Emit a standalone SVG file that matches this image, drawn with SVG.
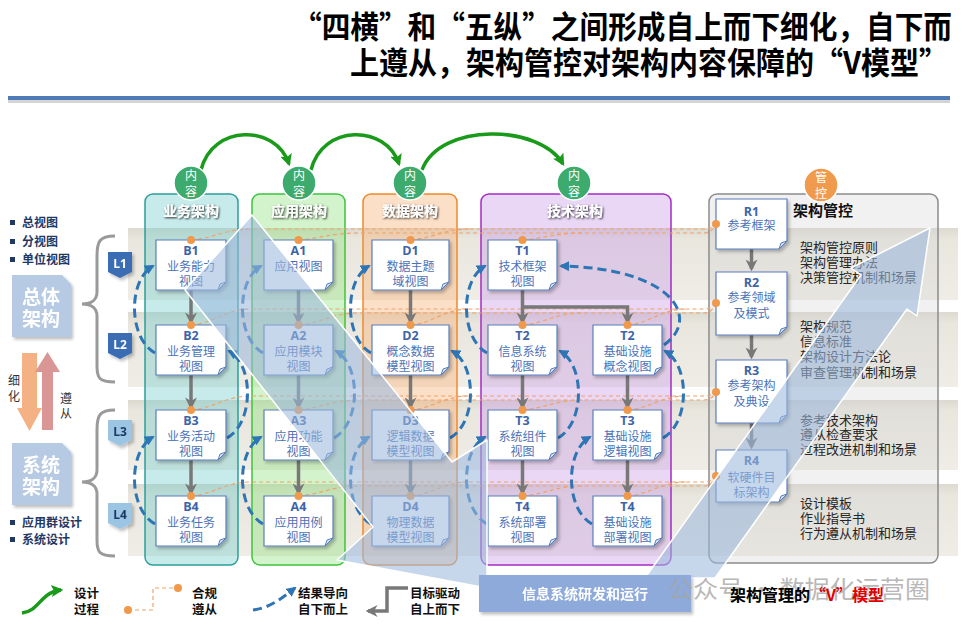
<svg xmlns="http://www.w3.org/2000/svg" width="964" height="627" viewBox="0 0 964 627">
<defs>
<style>
.title{font-family:"Noto Sans CJK SC","Noto Sans",sans-serif;font-weight:bold;font-size:31px;fill:#000}
.band{fill:url(#gband)}
.card{fill:#fff;stroke:#5b7fbd;stroke-width:1.2;filter:url(#sh)}
.fold{fill:#d6e2f3;stroke:#5b7fbd;stroke-width:1}
.cid{font-family:"Open Sans","Noto Sans CJK SC",sans-serif;font-weight:bold;font-size:12.5px;fill:#3d64a8;text-anchor:middle}
.cn{font-family:"Noto Sans CJK SC",sans-serif;font-size:12px;fill:#4a73b9;text-anchor:middle}
.dot{fill:#f0994a}
.odash{fill:none;stroke:#f0a36a;stroke-width:1.2;stroke-dasharray:4 3}
.gray{fill:none;stroke:#787878;stroke-width:3.5;marker-end:url(#mg)}
.bdash{fill:none;stroke:#2e75b6;stroke-width:3;stroke-dasharray:9 5;marker-end:url(#mb)}
.green{fill:none;stroke:#1a9a1a;stroke-width:3.5;marker-end:url(#mgr)}
.hdr{font-family:"Noto Sans CJK SC",sans-serif;font-weight:bold;font-size:14px;fill:#fff;text-anchor:middle;filter:url(#ts)}
.ct{font-family:"Noto Sans CJK SC",sans-serif;font-size:12px;fill:#fff;text-anchor:middle}
.rtxt{font-family:"Noto Sans CJK SC",sans-serif;font-size:13px;fill:#262626}
.bul{font-family:"Noto Sans CJK SC",sans-serif;font-weight:bold;font-size:12px;fill:#1f3864}
.leg{font-family:"Noto Sans CJK SC",sans-serif;font-weight:bold;font-size:12.5px;fill:#111}
.big{font-family:"Noto Sans CJK SC",sans-serif;font-weight:bold;font-size:19px;fill:#fff;text-anchor:middle}
.ltag{font-family:"Open Sans",sans-serif;font-weight:bold;font-size:12px;text-anchor:middle}
.small{font-family:"Noto Sans CJK SC",sans-serif;font-size:12px;fill:#333;text-anchor:middle}
</style>
<linearGradient id="gband" x1="0" y1="0" x2="0" y2="1">
<stop offset="0" stop-color="#dcd9cf"/><stop offset="0.15" stop-color="#e9e6de"/><stop offset="1" stop-color="#efede6"/>
</linearGradient>
<filter id="sh" x="-20%" y="-20%" width="150%" height="150%"><feDropShadow dx="2" dy="2.5" stdDeviation="1.8" flood-color="#000" flood-opacity="0.25"/></filter>
<filter id="ts" x="-20%" y="-30%" width="140%" height="170%"><feDropShadow dx="1" dy="1" stdDeviation="0.8" flood-color="#000" flood-opacity="0.85"/></filter>
<marker id="mg" viewBox="0 0 10 10" refX="8" refY="5" markerWidth="12" markerHeight="12" markerUnits="userSpaceOnUse" orient="auto"><path d="M0,0L10,5L0,10L3,5Z" fill="#787878"/></marker>
<marker id="mb" viewBox="0 0 10 10" refX="8" refY="5" markerWidth="10" markerHeight="10" markerUnits="userSpaceOnUse" orient="auto"><path d="M0,0L10,5L0,10Z" fill="#2e75b6"/></marker>
<marker id="mgr" viewBox="0 0 10 10" refX="8" refY="5" markerWidth="12" markerHeight="12" markerUnits="userSpaceOnUse" orient="auto"><path d="M0,0L10,5L0,10L2,5Z" fill="#1a9a1a"/></marker>
</defs>

<rect width="964" height="627" fill="#fff"/>

<!-- Title -->
<g id="title">
<text class="title" x="293" y="38" textLength="659" lengthAdjust="spacingAndGlyphs">“四横”和“五纵”之间形成自上而下细化，自下而</text>
<text class="title" x="350" y="74" textLength="598" lengthAdjust="spacingAndGlyphs">上遵从，架构管控对架构内容保障的“V模型”</text>
<rect x="8" y="100" width="942" height="3" fill="#d5d5d5"/>
<rect x="8" y="96" width="942" height="4" fill="#4e7ab5"/>
</g>

<!-- Bands -->
<g id="bands">
<rect class="band" x="128" y="228" width="830" height="72"/>
<rect class="band" x="128" y="312" width="830" height="75"/>
<rect class="band" x="128" y="400" width="830" height="70"/>
<rect class="band" x="128" y="484" width="830" height="72"/>
</g>

<!-- Columns -->
<g id="columns">
<rect x="145" y="194" width="93" height="371" rx="8" fill="#6ccaca" fill-opacity="0.38" stroke="#2b9f9b" stroke-width="1.5"/>
<rect x="252" y="194" width="93" height="371" rx="8" fill="#8ee07e" fill-opacity="0.4" stroke="#3ec43e" stroke-width="1.5"/>
<rect x="363" y="194" width="94" height="371" rx="8" fill="#f7b27a" fill-opacity="0.42" stroke="#ee8a2c" stroke-width="1.5"/>
<rect x="481" y="194" width="190" height="371" rx="8" fill="#c79ae6" fill-opacity="0.4" stroke="#a32cc4" stroke-width="1.5"/>
<rect x="709" y="194" width="229" height="369" rx="8" fill="#d0d0d0" fill-opacity="0.3" stroke="#8c8c8c" stroke-width="1.5"/>
</g>

<!-- Left side -->
<g id="left-top">
<rect x="10" y="220" width="5" height="5" fill="#1f3864"/><text class="bul" x="22" y="227">总视图</text>
<rect x="10" y="239" width="5" height="5" fill="#1f3864"/><text class="bul" x="22" y="246">分视图</text>
<rect x="10" y="257" width="5" height="5" fill="#1f3864"/><text class="bul" x="22" y="264">单位视图</text>
</g>
<g id="zongti" filter="url(#sh)">
<path d="M12,275H62L71,284V337H12Z" fill="#b7cae3"/>
<text class="big" x="41" y="304">总体</text>
<text class="big" x="41" y="326">架构</text>
</g>
<g id="xitong" filter="url(#sh)">
<path d="M12,443H62L71,452V505H12Z" fill="#b7cae3"/>
<text class="big" x="41" y="472">系统</text>
<text class="big" x="41" y="494">架构</text>
</g>
<g id="left-bottom">
<rect x="10" y="520" width="5" height="5" fill="#1f3864"/><text class="bul" x="22" y="527">应用群设计</text>
<rect x="10" y="537" width="5" height="5" fill="#1f3864"/><text class="bul" x="22" y="544">系统设计</text>
</g>
<g id="braces" fill="none" stroke="#9a9a9a" stroke-width="3">
<path d="M115,236C99,236 97,242 97,256L97,292C97,300 91,304 82,304C91,304 97,308 97,316L97,366C97,378 99,382 115,382"/>
<path d="M115,410C99,410 97,416 97,430L97,470C97,478 91,482 82,482C91,482 97,486 97,494L97,540C97,552 99,556 115,556"/>
</g>
<g id="refine-arrows">
<path d="M22,353H37V408H42L29.5,431L17,408H22Z" fill="#f4b183"/>
<path d="M42,430H53V372H60L47.5,352L35,372H42Z" fill="#d99694"/>
<text class="small" x="14" y="385">细</text>
<text class="small" x="14" y="401">化</text>
<text class="small" x="66" y="403">遵</text>
<text class="small" x="66" y="418">从</text>
</g>
<g id="L1" filter="url(#sh)"><path d="M108,252H132V272L120,278L108,272Z" fill="#3a6db5"/><text class="ltag" x="120" y="268" fill="#fff">L1</text></g>
<g id="L2" filter="url(#sh)"><path d="M108,333H132V353L120,359L108,353Z" fill="#3a6db5"/><text class="ltag" x="120" y="349" fill="#fff">L2</text></g>
<g id="L3" filter="url(#sh)"><path d="M108,420H132V440L120,446L108,440Z" fill="#9cc5e4"/><text class="ltag" x="120" y="436" fill="#1f3864">L3</text></g>
<g id="L4" filter="url(#sh)"><path d="M108,503H132V523L120,529L108,523Z" fill="#9cc5e4"/><text class="ltag" x="120" y="519" fill="#1f3864">L4</text></g>

<!-- Connectors -->
<g id="connectors">
<!-- compliance (orange dashed) -->
<g id="compliance">
<path class="odash" d="M191,240C215,238 225,229 251,229H704Q712,229 716,224"/>
<path class="odash" d="M298.5,240C322,238 332,233 358,233H704Q712,233 716,224"/>
<path class="odash" d="M410.5,240C434,238 444,229 470,229"/>
<path class="odash" d="M522.5,240C546,238 556,233 582,233"/>
<path class="odash" d="M191,325C215,323 225,309 251,309H704Q712,309 716,303"/>
<path class="odash" d="M298.5,325C322,323 332,313 358,313H704Q712,313 716,303"/>
<path class="odash" d="M410.5,325C434,323 444,309 470,309"/>
<path class="odash" d="M522.5,325C546,323 556,313 582,313"/>
<path class="odash" d="M627.5,325C651,323 661,309 687,309"/>
<path class="odash" d="M191,410C215,408 225,396 251,396H704Q712,396 716,392"/>
<path class="odash" d="M298.5,410C322,408 332,400 358,400H704Q712,400 716,392"/>
<path class="odash" d="M410.5,410C434,408 444,396 470,396"/>
<path class="odash" d="M522.5,410C546,408 556,400 582,400"/>
<path class="odash" d="M627.5,410C651,408 661,396 687,396"/>
<path class="odash" d="M191,496C215,494 225,482 251,482H704Q712,482 716,476"/>
<path class="odash" d="M298.5,496C322,494 332,486 358,486H704Q712,486 716,476"/>
<path class="odash" d="M410.5,496C434,494 444,482 470,482"/>
<path class="odash" d="M522.5,496C546,494 556,486 582,486"/>
<path class="odash" d="M627.5,496C651,494 661,482 687,482"/>
</g>
<!-- top-down gray arrows -->
<g id="topdown">
<path class="gray" d="M191,290V322"/><path class="gray" d="M191,375V407"/><path class="gray" d="M191,460V493"/>
<path class="gray" d="M298.5,290V322"/><path class="gray" d="M298.5,375V407"/><path class="gray" d="M298.5,460V493"/>
<path class="gray" d="M410.5,290V322"/><path class="gray" d="M410.5,375V407"/><path class="gray" d="M410.5,460V493"/>
<path class="gray" d="M522.5,290V322"/><path class="gray" d="M522.5,307H627.5V322"/>
<path class="gray" d="M522.5,375V407"/><path class="gray" d="M522.5,460V493"/>
<path class="gray" d="M627.5,375V407"/><path class="gray" d="M627.5,460V493"/>
<path class="gray" d="M751.5,249V269"/><path class="gray" d="M751.5,335V357"/><path class="gray" d="M751.5,423V447"/>
</g>
<!-- bottom-up blue dashed -->
<g id="bottomup">
<path class="bdash" d="M155,353C128,338 128,280 153,266"/>
<path class="bdash" d="M155,524C128,509 128,451 153,437"/>
<path class="bdash" d="M227,438C254,423 254,365 229,351"/>
<path class="bdash" d="M263,353C236,338 236,280 261,266"/>
<path class="bdash" d="M263,524C236,509 236,451 261,437"/>
<path class="bdash" d="M334,438C361,423 361,365 336,351"/>
<path class="bdash" d="M371,353C344,338 344,280 369,266"/>
<path class="bdash" d="M371,524C344,509 344,451 369,437"/>
<path class="bdash" d="M450,438C477,423 477,365 452,351"/>
<path class="bdash" d="M487,353C460,338 460,280 485,266"/>
<path class="bdash" d="M487,524C460,509 460,451 485,437"/>
<path class="bdash" d="M558,438C585,423 585,365 560,351"/>
<path class="bdash" d="M592,524C565,509 565,451 590,437"/>
<path class="bdash" d="M663,438C690,423 690,365 665,351"/>
<path class="bdash" d="M664,345C702,318 672,268 561,266"/>
</g>
<!-- design process green arcs -->
<g id="design">
<path class="green" d="M201,170C212,124 276,124 289,164"/>
<path class="green" d="M311,170C322,124 386,124 399,164"/>
<path class="green" d="M422,170C440,122 540,124 563,164"/>
</g>
</g>

<!-- Cards -->
<g id="B1" transform="translate(156,240)"><path class="card" d="M0,0H70V42L62,50H0Z"/><path class="fold" d="M62,50L64,44L70,42Z"/><circle class="dot" cx="35" cy="0" r="4"/><text class="cid" x="35" y="14.5">B1</text><text class="cn" x="35" y="31">业务能力</text><text class="cn" x="35" y="45.5">视图</text></g>
<g id="B2" transform="translate(156,325)"><path class="card" d="M0,0H70V42L62,50H0Z"/><path class="fold" d="M62,50L64,44L70,42Z"/><circle class="dot" cx="35" cy="0" r="4"/><text class="cid" x="35" y="14.5">B2</text><text class="cn" x="35" y="31">业务管理</text><text class="cn" x="35" y="45.5">视图</text></g>
<g id="B3" transform="translate(156,410)"><path class="card" d="M0,0H70V42L62,50H0Z"/><path class="fold" d="M62,50L64,44L70,42Z"/><circle class="dot" cx="35" cy="0" r="4"/><text class="cid" x="35" y="14.5">B3</text><text class="cn" x="35" y="31">业务活动</text><text class="cn" x="35" y="45.5">视图</text></g>
<g id="B4" transform="translate(156,496)"><path class="card" d="M0,0H70V42L62,50H0Z"/><path class="fold" d="M62,50L64,44L70,42Z"/><circle class="dot" cx="35" cy="0" r="4"/><text class="cid" x="35" y="14.5">B4</text><text class="cn" x="35" y="31">业务任务</text><text class="cn" x="35" y="45.5">视图</text></g>

<g id="A1" transform="translate(264,240)"><path class="card" d="M0,0H69V42L61,50H0Z"/><path class="fold" d="M61,50L63,44L69,42Z"/><circle class="dot" cx="34.5" cy="0" r="4"/><text class="cid" x="34.5" y="14.5">A1</text><text class="cn" x="34.5" y="31">应用视图</text></g>
<g id="A2" transform="translate(264,325)"><path class="card" d="M0,0H69V42L61,50H0Z"/><path class="fold" d="M61,50L63,44L69,42Z"/><circle class="dot" cx="34.5" cy="0" r="4"/><text class="cid" x="34.5" y="14.5">A2</text><text class="cn" x="34.5" y="31">应用模块</text><text class="cn" x="34.5" y="45.5">视图</text></g>
<g id="A3" transform="translate(264,410)"><path class="card" d="M0,0H69V42L61,50H0Z"/><path class="fold" d="M61,50L63,44L69,42Z"/><circle class="dot" cx="34.5" cy="0" r="4"/><text class="cid" x="34.5" y="14.5">A3</text><text class="cn" x="34.5" y="31">应用功能</text><text class="cn" x="34.5" y="45.5">视图</text></g>
<g id="A4" transform="translate(264,496)"><path class="card" d="M0,0H69V42L61,50H0Z"/><path class="fold" d="M61,50L63,44L69,42Z"/><circle class="dot" cx="34.5" cy="0" r="4"/><text class="cid" x="34.5" y="14.5">A4</text><text class="cn" x="34.5" y="31">应用用例</text><text class="cn" x="34.5" y="45.5">视图</text></g>

<g id="D1" transform="translate(372,240)"><path class="card" d="M0,0H77V42L69,50H0Z"/><path class="fold" d="M69,50L71,44L77,42Z"/><circle class="dot" cx="38.5" cy="0" r="4"/><text class="cid" x="38.5" y="14.5">D1</text><text class="cn" x="38.5" y="31">数据主题</text><text class="cn" x="38.5" y="45.5">域视图</text></g>
<g id="D2" transform="translate(372,325)"><path class="card" d="M0,0H77V42L69,50H0Z"/><path class="fold" d="M69,50L71,44L77,42Z"/><circle class="dot" cx="38.5" cy="0" r="4"/><text class="cid" x="38.5" y="14.5">D2</text><text class="cn" x="38.5" y="31">概念数据</text><text class="cn" x="38.5" y="45.5">模型视图</text></g>
<g id="D3" transform="translate(372,410)"><path class="card" d="M0,0H77V42L69,50H0Z"/><path class="fold" d="M69,50L71,44L77,42Z"/><circle class="dot" cx="38.5" cy="0" r="4"/><text class="cid" x="38.5" y="14.5">D3</text><text class="cn" x="38.5" y="31">逻辑数据</text><text class="cn" x="38.5" y="45.5">模型视图</text></g>
<g id="D4" transform="translate(372,496)"><path class="card" d="M0,0H77V42L69,50H0Z"/><path class="fold" d="M69,50L71,44L77,42Z"/><circle class="dot" cx="38.5" cy="0" r="4"/><text class="cid" x="38.5" y="14.5">D4</text><text class="cn" x="38.5" y="31">物理数据</text><text class="cn" x="38.5" y="45.5">模型视图</text></g>

<g id="T1" transform="translate(488,240)"><path class="card" d="M0,0H69V42L61,50H0Z"/><path class="fold" d="M61,50L63,44L69,42Z"/><circle class="dot" cx="34.5" cy="0" r="4"/><text class="cid" x="34.5" y="14.5">T1</text><text class="cn" x="34.5" y="31">技术框架</text><text class="cn" x="34.5" y="45.5">视图</text></g>
<g id="T2a" transform="translate(488,325)"><path class="card" d="M0,0H69V42L61,50H0Z"/><path class="fold" d="M61,50L63,44L69,42Z"/><circle class="dot" cx="34.5" cy="0" r="4"/><text class="cid" x="34.5" y="14.5">T2</text><text class="cn" x="34.5" y="31">信息系统</text><text class="cn" x="34.5" y="45.5">视图</text></g>
<g id="T3a" transform="translate(488,410)"><path class="card" d="M0,0H69V42L61,50H0Z"/><path class="fold" d="M61,50L63,44L69,42Z"/><circle class="dot" cx="34.5" cy="0" r="4"/><text class="cid" x="34.5" y="14.5">T3</text><text class="cn" x="34.5" y="31">系统组件</text><text class="cn" x="34.5" y="45.5">视图</text></g>
<g id="T4a" transform="translate(488,496)"><path class="card" d="M0,0H69V42L61,50H0Z"/><path class="fold" d="M61,50L63,44L69,42Z"/><circle class="dot" cx="34.5" cy="0" r="4"/><text class="cid" x="34.5" y="14.5">T4</text><text class="cn" x="34.5" y="31">系统部署</text><text class="cn" x="34.5" y="45.5">视图</text></g>
<g id="T2b" transform="translate(593,325)"><path class="card" d="M0,0H69V42L61,50H0Z"/><path class="fold" d="M61,50L63,44L69,42Z"/><circle class="dot" cx="34.5" cy="0" r="4"/><text class="cid" x="34.5" y="14.5">T2</text><text class="cn" x="34.5" y="31">基础设施</text><text class="cn" x="34.5" y="45.5">概念视图</text></g>
<g id="T3b" transform="translate(593,410)"><path class="card" d="M0,0H69V42L61,50H0Z"/><path class="fold" d="M61,50L63,44L69,42Z"/><circle class="dot" cx="34.5" cy="0" r="4"/><text class="cid" x="34.5" y="14.5">T3</text><text class="cn" x="34.5" y="31">基础设施</text><text class="cn" x="34.5" y="45.5">逻辑视图</text></g>
<g id="T4b" transform="translate(593,496)"><path class="card" d="M0,0H69V42L61,50H0Z"/><path class="fold" d="M61,50L63,44L69,42Z"/><circle class="dot" cx="34.5" cy="0" r="4"/><text class="cid" x="34.5" y="14.5">T4</text><text class="cn" x="34.5" y="31">基础设施</text><text class="cn" x="34.5" y="45.5">部署视图</text></g>

<g id="R1" transform="translate(716,199)"><path class="card" d="M0,0H71V42L63,50H0Z"/><path class="fold" d="M63,50L65,44L71,42Z"/><circle class="dot" cx="0" cy="25" r="4"/><text class="cid" x="35.5" y="16.5">R1</text><text class="cn" x="35.5" y="31">参考框架</text></g>
<g id="R2" transform="translate(716,272)"><path class="card" d="M0,0H71V55L63,63H0Z"/><path class="fold" d="M63,63L65,57L71,55Z"/><circle class="dot" cx="0" cy="31" r="4"/><text class="cid" x="35.5" y="15">R2</text><text class="cn" x="35.5" y="30">参考领域</text><text class="cn" x="35.5" y="46">及模式</text></g>
<g id="R3" transform="translate(716,360)"><path class="card" d="M0,0H71V55L63,63H0Z"/><path class="fold" d="M63,63L65,57L71,55Z"/><circle class="dot" cx="0" cy="32" r="4"/><text class="cid" x="35.5" y="15">R3</text><text class="cn" x="35.5" y="30">参考架构</text><text class="cn" x="35.5" y="46">及典设</text></g>
<g id="R4" transform="translate(716,450)"><path class="card" d="M0,0H71V44L63,52H0Z"/><path class="fold" d="M63,52L65,46L71,44Z"/><circle class="dot" cx="0" cy="26" r="4"/><text class="cid" x="35.5" y="15">R4</text><text class="cn" x="35.5" y="31.5">软硬件目</text><text class="cn" x="35.5" y="46.5">标架构</text></g>

<!-- Governance texts -->
<g id="gov-text">
<text class="rtxt" x="800" y="252">架构管控原则</text>
<text class="rtxt" x="800" y="267">架构管理办法</text>
<text class="rtxt" x="800" y="282">决策管控机制和场景</text>
<text class="rtxt" x="800" y="331">架构规范</text>
<text class="rtxt" x="800" y="346">信息标准</text>
<text class="rtxt" x="800" y="361">架构设计方法论</text>
<text class="rtxt" x="800" y="377">审查管理机制和场景</text>
<text class="rtxt" x="800" y="425">参考技术架构</text>
<text class="rtxt" x="800" y="439">遵从检查要求</text>
<text class="rtxt" x="800" y="454">过程改进机制和场景</text>
<text class="rtxt" x="800" y="508">设计模板</text>
<text class="rtxt" x="800" y="523">作业指导书</text>
<text class="rtxt" x="800" y="538">行为遵从机制和场景</text>
</g>

<!-- V model band -->
<g id="vmodel" fill="#9db9dd" fill-opacity="0.58" stroke="#fff" stroke-width="1.5" stroke-linejoin="round">
<path d="M185,290L252,215L452,462L487,440L487,588L337,560L373,527Z"/>
<path d="M645,578L861,275L851,268L930,228L917,316L907,309L715,578Z"/>
</g>
<g id="rd-box" filter="url(#sh)">
<rect x="479" y="575" width="212" height="37" fill="#8eaadb"/>
<text x="585" y="599" text-anchor="middle" font-family="Noto Sans CJK SC, sans-serif" font-weight="bold" font-size="14" fill="#fff">信息系统研发和运行</text>
</g>

<!-- Column headers and circles -->
<g id="col-biz"><text class="hdr" x="191" y="216">业务架构</text><circle cx="191" cy="183" r="17" fill="#3daa6e" stroke="#fff" stroke-width="1.5"/><text class="ct" x="191" y="180">内</text><text class="ct" x="191" y="196">容</text></g>
<g id="col-app"><text class="hdr" x="299" y="216">应用架构</text><circle cx="299" cy="183" r="17" fill="#3daa6e" stroke="#fff" stroke-width="1.5"/><text class="ct" x="299" y="180">内</text><text class="ct" x="299" y="196">容</text></g>
<g id="col-data"><text class="hdr" x="410" y="216">数据架构</text><circle cx="410" cy="183" r="17" fill="#3daa6e" stroke="#fff" stroke-width="1.5"/><text class="ct" x="410" y="180">内</text><text class="ct" x="410" y="196">容</text></g>
<g id="col-tech"><text class="hdr" x="575" y="216">技术架构</text><circle cx="574" cy="183" r="17" fill="#3daa6e" stroke="#fff" stroke-width="1.5"/><text class="ct" x="574" y="180">内</text><text class="ct" x="574" y="196">容</text></g>
<g id="col-gov"><text x="793" y="216" font-family="Noto Sans CJK SC, sans-serif" font-weight="bold" font-size="15" fill="#111">架构管控</text><circle cx="821" cy="185" r="17" fill="#ef9a4c" stroke="#fff" stroke-width="1.5"/><text class="ct" x="821" y="182">管</text><text class="ct" x="821" y="198">控</text></g>

<!-- Legend -->
<g id="legend">
<path d="M22,613C40,611 40,592 61,590" fill="none" stroke="#1a9a1a" stroke-width="3.5" marker-end="url(#mgr)"/>
<text class="leg" x="74" y="598">设计</text><text class="leg" x="74" y="614">过程</text>
<path class="odash" d="M128,610H153V588H178"/>
<circle class="dot" cx="128" cy="610" r="4"/><circle class="dot" cx="178" cy="588" r="4"/>
<text class="leg" x="192" y="598">合规</text><text class="leg" x="192" y="614">遵从</text>
<path class="bdash" d="M253,610C270,608 282,598 295,588"/>
<text class="leg" x="298" y="598">结果导向</text><text class="leg" x="298" y="614">自下而上</text>
<path class="gray" d="M408,588H387V611H368"/>
<text class="leg" x="410" y="598">目标驱动</text><text class="leg" x="410" y="614">自上而下</text>
</g>

<text x="668" y="598" font-family="Noto Sans CJK SC, sans-serif" font-size="24" fill="#a5a5a5" fill-opacity="0.8" textLength="262" lengthAdjust="spacingAndGlyphs">公众号 · 数据化运营圈</text>
<text x="730" y="601" font-family="Noto Sans CJK SC, sans-serif" font-weight="bold" font-size="16" fill="#000">架构管理的<tspan fill="#e00000">“V”模型</tspan></text>
<text x="948" y="640" font-family="Liberation Sans, sans-serif" font-weight="bold" font-size="18" fill="#000">2</text>
</svg>
